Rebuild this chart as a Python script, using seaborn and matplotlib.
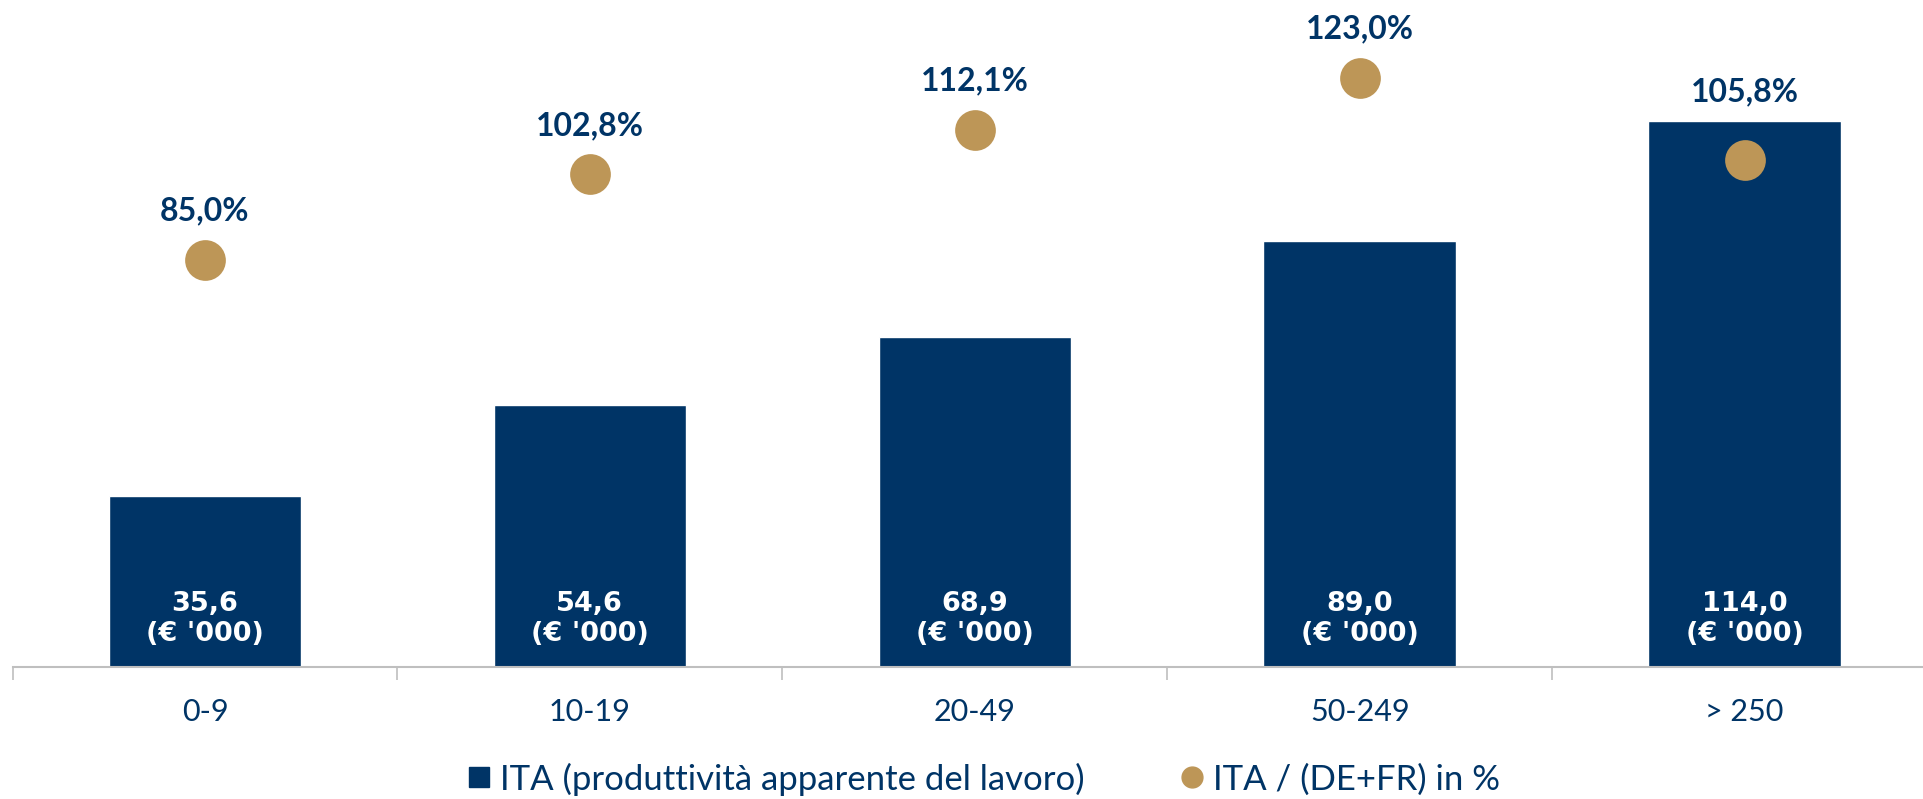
"""Produttività apparente del lavoro per classe dimensionale."""

import matplotlib
matplotlib.use("Agg")
import matplotlib.pyplot as plt
import numpy as np
import pandas as pd
import seaborn as sns
from matplotlib.lines import Line2D

sns.set_theme(style="white")
plt.rcParams["font.family"] = ["Lato", "DejaVu Sans"]

NAVY = "#003466"
GOLD = "#BD9657"
GREY = "#BFBFBF"

classes = ["0-9", "10-19", "20-49", "50-249", "> 250"]
productivity = [35.6, 54.6, 68.9, 89.0, 114.0]
ratio_pct = [85.0, 102.8, 112.1, 123.0, 105.8]

df = pd.DataFrame({"classe": classes, "prod": productivity, "ratio": ratio_pct})


def fmt(v, nd=1):
    return f"{v:.{nd}f}".replace(".", ",")


fig = plt.figure(figsize=(19.23, 7.99), dpi=100)
ax = fig.add_axes([12.5 / 1923, 132 / 799, (1937 - 12.5) / 1923, 1 - 132 / 799])

sns.barplot(data=df, x="classe", y="prod", color=NAVY, saturation=1, width=0.5, ax=ax)
pos = np.arange(len(classes))
ax.scatter(pos, df["ratio"], s=860, color=GOLD, zorder=3, linewidths=0)

for x, v in zip(pos, productivity):
    ax.annotate(f"{fmt(v)}\n(€ '000)", (x, 0), xytext=(0, 34.5), textcoords="offset points",
                ha="center", va="center", color="white", fontsize=19.5, fontweight="bold",
                family="DejaVu Sans", linespacing=1.2)
# percentage labels sit above the dot, or above the bar if the dot is inside it
for x, v, b in zip(pos, ratio_pct, productivity):
    if v >= b:
        ax.annotate(f"{fmt(v)}%", (x, v), xytext=(0, 35), textcoords="offset points",
                    ha="center", va="center", color=NAVY, fontsize=23, fontweight="bold")
    else:
        ax.annotate(f"{fmt(v)}%", (x, b), xytext=(0, 21), textcoords="offset points",
                    ha="center", va="center", color=NAVY, fontsize=23, fontweight="bold")

ax.set_xlim(-0.5, len(classes) - 0.5)
ax.set_ylim(0, 139.2)
ax.set_xlabel("")
ax.set_ylabel("")
ax.set_yticks([])
for side in ["top", "right", "left"]:
    ax.spines[side].set_visible(False)
ax.spines["bottom"].set_color(GREY)
ax.spines["bottom"].set_linewidth(1.5)
ax.set_xticks(pos)
ax.set_xticklabels(classes)
ax.set_xticks(np.arange(-0.5, len(classes)), minor=True)
ax.tick_params(axis="x", which="major", length=0, pad=22, labelsize=22, labelcolor=NAVY)
ax.tick_params(axis="x", which="minor", bottom=True, length=9, width=1.2, color=GREY)

handles = [
    Line2D([], [], marker="s", linestyle="", color=NAVY, markersize=15,
           label="ITA (produttività apparente del lavoro)"),
    Line2D([], [], marker="o", linestyle="", color=GOLD, markersize=15,
           label="ITA / (DE+FR) in %"),
]
fig.legend(handles=handles, loc="center", bbox_to_anchor=(0.51, 20 / 799), ncol=2,
           frameon=False, fontsize=25, labelcolor=NAVY, handletextpad=0.1,
           columnspacing=2.6, handlelength=1.0)

fig.savefig("out.png", dpi=100)
